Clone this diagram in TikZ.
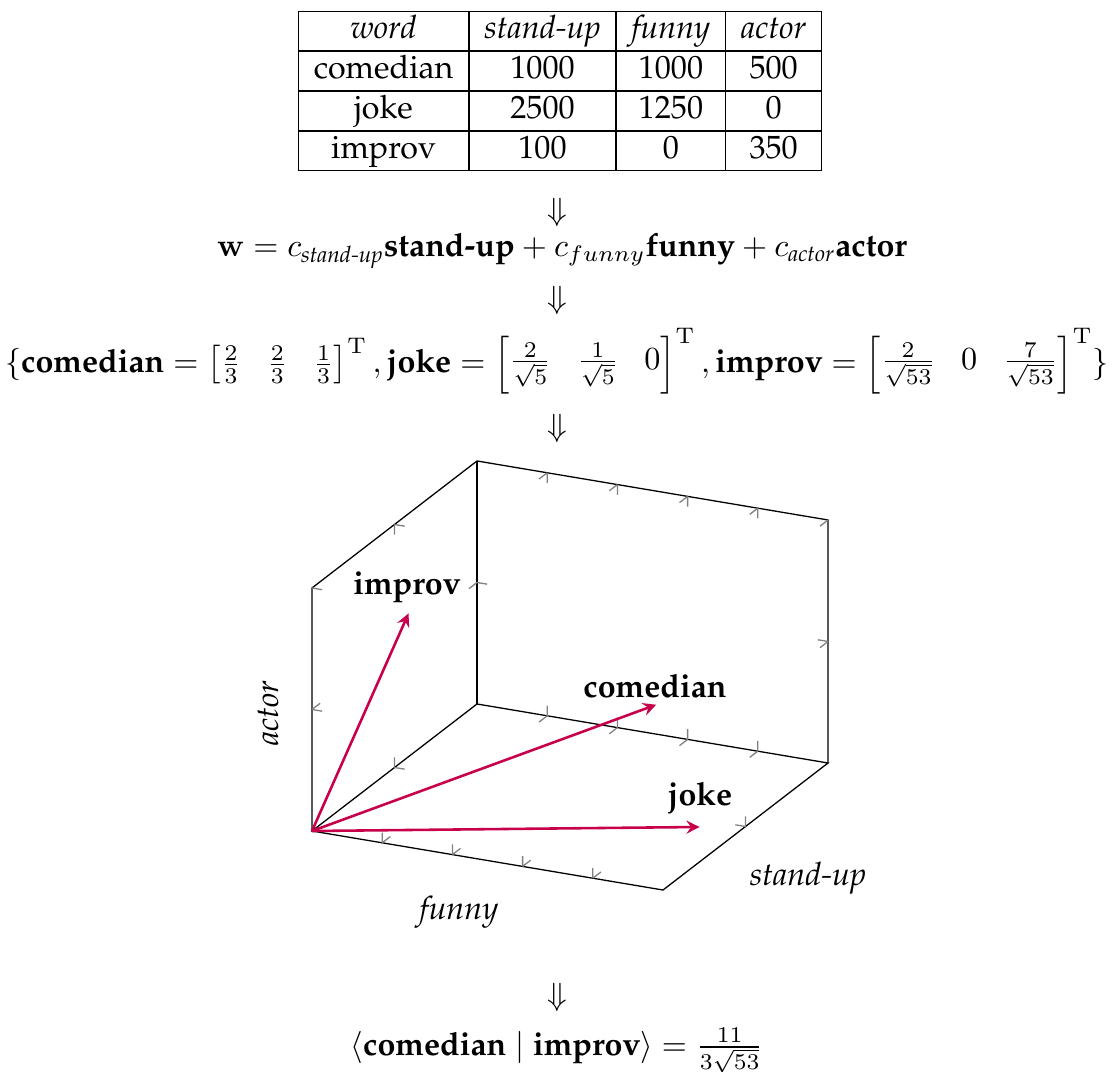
\documentclass[tikz,border=0pt]{standalone}
\usepackage[T1]{fontenc}
\usepackage{palatino}
\usepackage{amsmath}
\definecolor{vecred}{RGB}{200,0,75}

\begin{document}
\begin{tikzpicture}[x=0.3106pt, y=-0.3106pt]
        % Style Definitions
        \tikzstyle{txt} = [inner sep=0pt, align=center]
        \tikzstyle{axisline} = [black, line width=0.4pt]
        \tikzstyle{tick} = [gray, line width=0.4pt]
        \tikzstyle{vec} = [vecred, line width=0.8pt, -stealth]
        \tikzstyle{lbl} = [inner sep=0pt]

        \useasboundingbox (0,0) rectangle (1114,1072);

        % Nodes
        \node (table) [txt] at (560,91) {%
            \setlength{\tabcolsep}{4.8pt}%
            \begin{tabular}{|c|c|c|c|}
                \hline
                \textit{word} & \textit{stand-up} & \textit{funny} & \textit{actor} \\ \hline
                comedian & 1000 & 1000 & 500 \\ \hline
                joke & 2500 & 1250 & 0 \\ \hline
                improv & 100 & 0 & 350 \\ \hline
            \end{tabular}};
        \node (down1) [txt] at (557,212) {$\Downarrow$};
        \node (expand) [txt, anchor=base] at (562,257) {$\mathbf{w} = c_{\textit{stand-up}}\textbf{stand-up} + c_{funny}\textbf{funny} + c_{\textit{actor}}\textbf{actor}$};
        \node (down2) [txt] at (557,300) {$\Downarrow$};
        \node (vectors) [txt, anchor=base] at (557,373) {\setlength{\arraycolsep}{4pt}%
            $\{\textbf{comedian} = \begin{bmatrix}\frac{2}{3} & \frac{2}{3} & \frac{1}{3}\end{bmatrix}^{\mathrm{T}}, \textbf{joke} = \begin{bmatrix}\frac{2}{\sqrt{5}} & \frac{1}{\sqrt{5}} & 0\end{bmatrix}^{\mathrm{T}}, \textbf{improv} = \begin{bmatrix}\frac{2}{\sqrt{53}} & 0 & \frac{7}{\sqrt{53}}\end{bmatrix}^{\mathrm{T}}\}$};
        \node (down3) [txt] at (557,428) {$\Downarrow$};
        \node (down4) [txt] at (557,997) {$\Downarrow$};
        \node (inner) [txt, anchor=base] at (557,1055) {$\langle \textbf{comedian} \mid \textbf{improv} \rangle = \frac{11}{3\sqrt{53}}$};

        % Plot box (x = stand-up, y = funny, z = actor)
        \begin{scope}[shift={(312,831)}, x={(109.02pt,-18.33pt)}, y={(51.25pt,39.45pt)}, z={(0pt,75.48pt)}]
            \coordinate (o) at (0,0,0);
            \coordinate (comedianTip) at (0.667,0.667,0.333);
            \coordinate (jokeTip) at (0.894,0.447,0);
            \coordinate (improvTip) at (0.275,0,0.962);

            \draw[axisline] (0,0,0) -- (1,0,0) -- (1,1,0) -- (0,1,0) -- cycle;
            \draw[axisline] (0,0,0) -- (0,0,1) -- (0,1,1) -- (1,1,1) -- (1,1,0);
            \draw[axisline] (0,1,0) -- (0,1,1);

            % Ticks
            \foreach \s in {0.2,0.4,0.6,0.8}{
                \draw[tick] (\s,0,0) -- ++(0,0,0.042) (\s,0,0) -- ++(0,0.049,0);
                \draw[tick] (\s,1,0) -- ++(0,0,0.042) (\s,1,0) -- ++(0,-0.049,0);
                \draw[tick] (\s,1,1) -- ++(0,0,-0.042) (\s,1,1) -- ++(0,-0.049,0);
            }
            \draw[tick] (0,0.5,0) -- ++(0.029,0,0) (0,0.5,0) -- ++(0,0,0.042);
            \draw[tick] (1,0.5,0) -- ++(-0.029,0,0) (1,0.5,0) -- ++(0,0,0.042);
            \draw[tick] (0,0.5,1) -- ++(0.029,0,0) (0,0.5,1) -- ++(0,0,-0.042);
            \draw[tick] (0,0,0.5) -- ++(0.029,0,0) (0,0,0.5) -- ++(0,0.049,0);
            \draw[tick] (0,1,0.5) -- ++(0.029,0,0) (0,1,0.5) -- ++(0,-0.049,0);
            \draw[tick] (1,1,0.5) -- ++(-0.029,0,0) (1,1,0.5) -- ++(0,-0.049,0);
            \draw[tick] (1,1,1) -- ++(0,-0.049,0);
            \draw[tick] (0,0,1) -- ++(0.029,0,0);

            % Arrows
            \draw[vec] (o) -- (improvTip);
            \draw[vec] (o) -- (comedianTip);
            \draw[vec] (o) -- (jokeTip);
        \end{scope}

        % Labels
        \node (improv) [lbl] at (407,587) {\textbf{improv}};
        \node (comedian) [lbl] at (655,686) {\textbf{comedian}};
        \node (joke) [lbl] at (700,798) {\textbf{joke}};
        \node (actor) [lbl, rotate=90] at (268,713) {\textit{actor}};
        \node (funny) [lbl] at (459,912) {\textit{funny}};
        \node (standup) [lbl] at (808,878) {\textit{stand-up}};

    \end{tikzpicture}
\end{document}
